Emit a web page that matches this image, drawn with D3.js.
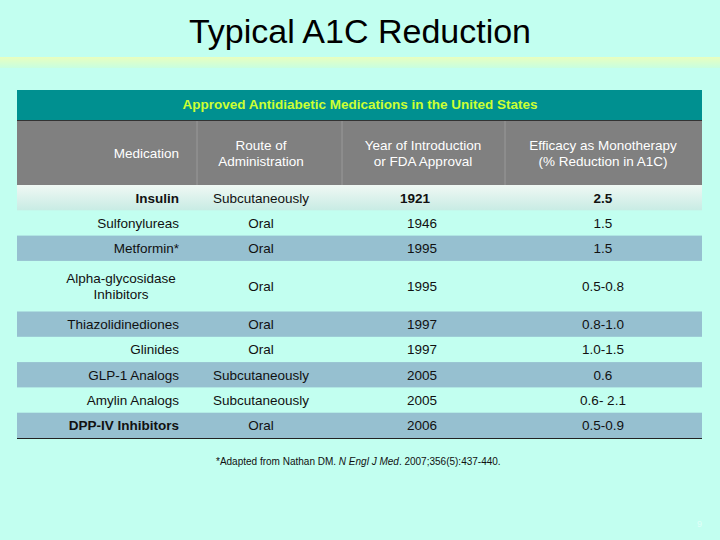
<!DOCTYPE html>
<html><head><meta charset="utf-8">
<script src="https://cdn.jsdelivr.net/npm/d3@7"></script>
<style>body{margin:0;background:#c2fff0}</style>
</head><body>
<svg id="chart" width="720" height="540"></svg>
<script>
// table content
const medications = ["Insulin", "Sulfonylureas", "Metformin*", "Alpha-glycosidase|Inhibitors", "Thiazolidinediones", "Glinides", "GLP-1 Analogs", "Amylin Analogs", "DPP-IV Inhibitors"];
const routes = ["Subcutaneously", "Oral", "Oral", "Oral", "Oral", "Oral", "Subcutaneously", "Subcutaneously", "Oral"];
const years = ["1921", "1946", "1995", "1995", "1997", "1997", "2005", "2005", "2006"];
const efficacy = ["2.5", "1.5", "1.5", "0.5-0.8", "0.8-1.0", "1.0-1.5", "0.6", "0.6- 2.1", "0.5-0.9"];
const headers = ["Medication", "Route of|Administration", "Year of Introduction|or FDA Approval", "Efficacy as Monotherapy|(% Reduction in A1C)"];
const rowUnits = [1, 1, 1, 2, 1, 1, 1, 1, 1];

const svg = d3.select("#chart");
const font = "Arial, 'Liberation Sans', sans-serif";

// background band under title
const defs = svg.append("defs");
const band = defs.append("linearGradient").attr("id", "band").attr("x1", 0).attr("x2", 0).attr("y1", 0).attr("y2", 1);
band.append("stop").attr("offset", 0).attr("stop-color", "#e8ffc0");
band.append("stop").attr("offset", 1).attr("stop-color", "#c8ffe0");
svg.append("rect").attr("x", 0).attr("y", 57).attr("width", 720).attr("height", 11).attr("fill", "url(#band)");

const ins = defs.append("linearGradient").attr("id", "ins").attr("x1", 0).attr("x2", 0).attr("y1", 0).attr("y2", 1);
ins.append("stop").attr("offset", 0).attr("stop-color", "#f0f8f4");
ins.append("stop").attr("offset", 1).attr("stop-color", "#c8ece4");

svg.append("text").attr("x", 360).attr("y", 43).attr("text-anchor", "middle")
  .attr("font-family", font).attr("font-size", 34).text("Typical A1C Reduction");

const colEdges = [17, 197, 342, 505, 702];
const x0 = colEdges[0], x1 = colEdges[4];

// title row
svg.append("rect").attr("x", x0).attr("y", 90).attr("width", x1 - x0).attr("height", 30).attr("fill", "#009090");
svg.append("text").attr("x", 360).attr("y", 109).attr("text-anchor", "middle").attr("font-family", font)
  .attr("font-size", 13.5).attr("font-weight", "bold").attr("fill", "#ccff33")
  .text("Approved Antidiabetic Medications in the United States");
svg.append("line").attr("x1", x0).attr("x2", x1).attr("y1", 120.5).attr("y2", 120.5).attr("stroke", "#333");

// header row
svg.append("rect").attr("x", x0).attr("y", 121).attr("width", x1 - x0).attr("height", 64).attr("fill", "#808080");
[1, 2, 3].forEach(i => svg.append("line").attr("x1", colEdges[i]).attr("x2", colEdges[i])
  .attr("y1", 121).attr("y2", 185).attr("stroke", "#999"));
const hx = [179, 261, 423, 603], anchors = ["end", "middle", "middle", "middle"];
headers.forEach((h, i) => {
  const lines = h.split("|");
  const t = svg.append("text").attr("text-anchor", anchors[i]).attr("font-family", font)
    .attr("font-size", 13.5).attr("fill", "#fff");
  lines.forEach((l, j) => t.append("tspan").attr("x", hx[i])
    .attr("y", 158 + (j - (lines.length - 1) / 2) * 16).text(l));
});

// body rows
const cum = [0];
rowUnits.forEach(u => cum.push(cum[cum.length - 1] + u));
const y = d3.scaleLinear().domain([0, cum[cum.length - 1]]).range([185, 438]);
const fills = ["url(#ins)", "none", "#96c0d0", "none", "#96c0d0", "none", "#96c0d0", "none", "#96c0d0"];
const cols = [medications, routes, years, efficacy];

medications.forEach((m, r) => {
  const top = y(cum[r]), bot = y(cum[r + 1]), mid = (top + bot) / 2;
  svg.append("rect").attr("x", x0).attr("y", top).attr("width", x1 - x0).attr("height", bot - top).attr("fill", fills[r]);
  cols.forEach((c, i) => {
    const lines = c[r].split("|");
    let px = [179, 261, 407, 603][i], anchor = ["end", "middle", "start", "middle"][i];
    if (i === 0 && r === 3) { px = 121; anchor = "middle"; }
    if (i === 2 && r === 0) { px = 415; anchor = "middle"; }
    const t = svg.append("text").attr("text-anchor", anchor).attr("font-family", font)
      .attr("font-size", 13.5).attr("fill", "#111")
      .attr("font-weight", r === 0 && i !== 1 || r === 8 && i === 0 ? "bold" : "normal");
    lines.forEach((l, j) => t.append("tspan").attr("x", px)
      .attr("y", mid + 5 + (j - (lines.length - 1) / 2) * 16).text(l));
  });
});
svg.append("line").attr("x1", x0).attr("x2", x1).attr("y1", 438.5).attr("y2", 438.5).attr("stroke", "#222").attr("stroke-width", 1.2);

// footnote
const fn = svg.append("text").attr("x", 216).attr("y", 465).attr("font-family", font).attr("font-size", 10).attr("fill", "#111");
fn.append("tspan").text("*Adapted from Nathan DM. ");
fn.append("tspan").attr("font-style", "italic").text("N Engl J Med");
fn.append("tspan").text(". 2007;356(5):437-440.");

svg.append("text").attr("x", 697).attr("y", 527).attr("font-family", font).attr("font-size", 9).attr("fill", "#e0fff8").text("9");
</script>
</body></html>
